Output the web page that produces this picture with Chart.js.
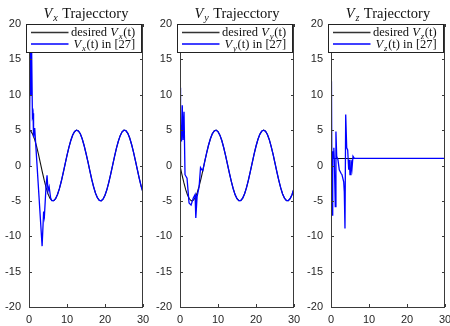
<!DOCTYPE html>
<html>
<head>
<meta charset="utf-8">
<script src="https://cdn.jsdelivr.net/npm/chart.js@4.4.0/dist/chart.umd.min.js"></script>
<style>
body{margin:0;width:450px;height:326px;overflow:hidden;background:#fff;position:relative}
.panel{position:absolute;top:0;width:150px;height:326px}
</style>
</head>
<body>
<div class="panel" style="left:0px"><canvas id="cx" width="150" height="326"></canvas></div>
<div class="panel" style="left:151px"><canvas id="cy" width="150" height="326"></canvas></div>
<div class="panel" style="left:302px"><canvas id="cz" width="150" height="326"></canvas></div>
<script>
// time grid of the desired curves
const tGrid = [0,0.5,1,1.5,2,2.5,3,3.5,4,4.5,5,5.5,6,6.5,7,7.5,8,8.5,9,9.5,10,10.5,11,11.5,12,12.5,13,13.5,14,14.5,15,
  15.5,16,16.5,17,17.5,18,18.5,19,19.5,20,20.5,21,21.5,22,22.5,23,23.5,24,24.5,25,25.5,26,26.5,27,27.5,28,28.5,29,29.5,30];

const vxDesired = [5,4.84,4.39,3.66,2.70,1.58,0.35,-0.89,-2.08,-3.14,
  -4.01,-4.62,-4.95,-4.97,-4.68,-4.10,-3.27,-2.23,-1.05,0.19,
  1.42,2.56,3.54,4.31,4.80,5.00,4.88,4.49,3.77,2.83,
  1.73,0.54,-0.73,-1.94,-3.01,-3.91,-4.56,-4.92,-4.99,-4.74,
  -4.20,-3.40,-2.38,-1.23,0.02,1.27,2.42,3.42,4.22,4.76,
  4.99,4.93,4.54,3.88,2.97,1.89,0.68,-0.56,-1.77,-2.90,-3.80];

const vyDesired = [0,-1.24,-2.40,-3.41,-4.21,-4.74,-4.99,-4.92,-4.55,-3.89,
  -2.99,-1.91,-0.71,0.54,1.75,2.86,3.78,4.48,4.89,5.00,
  4.79,4.29,3.53,2.54,1.40,0.17,-1.08,-2.25,-3.28,-4.12,
  -4.69,-4.97,-4.95,-4.61,-3.99,-3.12,-2.06,-0.87,0.38,1.60,
  2.72,3.67,4.40,4.86,5.00,4.84,4.38,3.65,2.68,1.57,
  0.33,-0.92,-2.10,-3.16,-4.02,-4.63,-4.95,-4.97,-4.67,-4.09,-3.25];

const tZ = [0,30];
const vzDesired = [1,1];

// transient part of the controller from [27], after that it follows the desired curve
const tVxHead = [0,0.12,0.25,0.4,0.55,0.7,0.9,1.06,1.2,1.5,3.45,3.85,4.05,4.5,4.75,5.0,5.3,5.7];
const vxHead  = [0,17,8,18,10,16,7,7.4,4,5.3,-11.4,-6.5,-7.2,-2.8,-1.4,-3.6,-3.0,-4.6];

const tVyHead = [0,0.08,0.2,0.4,0.6,0.8,1.06,1.32,1.85,2.38,2.91,3.5,3.97,4.16,4.5,5.03,5.4,5.75];
const vyHead  = [0,11,5,3.4,8.5,3.6,7.6,-1.3,-1.8,-5.3,-5.6,-4.6,-4.1,-7.4,-4.4,-3.0,-0.3,-0.6];

const tVzHead = [0,0.12,0.28,0.45,0.6,0.75,0.87,1.13,1.3,1.5,1.84,2.18,2.63,2.89,3.34,3.5,3.68,3.87,4.13,4.39,4.66,4.82,5.0,5.26,5.53,5.79,6.13];
const vzHead  = [0,11.9,-7.0,2.0,1.0,2.5,0.8,-5.8,4.8,1.3,0.8,-0.6,-1.1,-1.3,-2.3,-3.7,-8.9,7.2,2.5,2.2,-0.6,0.8,-1.3,0.8,-0.4,1.3,1.0];

const yTicks = {min:-20, max:20, step:5};
const xTicks = {min:0, max:30, step:10};

function pts(t, v){ return t.map((x,i)=>({x:x, y:v[i]})); }
function withTail(tHead, vHead, t, v){
  const last = tHead[tHead.length-1];
  const out = pts(tHead, vHead);
  t.forEach((x,i)=>{ if(x>last) out.push({x:x, y:v[i]}); });
  return out;
}

const serif = '"Liberation Serif", "Times New Roman", serif';

// draws "V_s" style pieces, returns width
function mathText(ctx, parts, x, y, size, draw){
  let w = 0;
  parts.forEach(p=>{
    const fs = p.sub ? size*0.7 : size;
    ctx.font = (p.it ? 'italic ' : '') + fs + 'px ' + serif;
    if(draw) ctx.fillText(p.s, x+w, y + (p.sub ? size*0.25 : 0));
    w += ctx.measureText(p.s).width + (p.it ? 0.8 : 0);
  });
  return w;
}

const matlabLook = {
  id:'matlabLook',
  afterDatasetsDraw(chart, args, o){
    const ctx = chart.ctx, a = chart.chartArea, xs = chart.scales.x, ys = chart.scales.y;
    ctx.save();
    // axes box with inward ticks
    ctx.strokeStyle = '#3a3a3a';
    ctx.lineWidth = 1;
    ctx.beginPath();
    xs.ticks.forEach(t=>{
      const px = Math.round(xs.getPixelForValue(t.value))+0.5;
      ctx.moveTo(px, a.bottom); ctx.lineTo(px, a.bottom-3);
      ctx.moveTo(px, a.top); ctx.lineTo(px, a.top+3);
    });
    ys.ticks.forEach(t=>{
      const py = Math.round(ys.getPixelForValue(t.value))+0.5;
      ctx.moveTo(a.left, py); ctx.lineTo(a.left+3, py);
      ctx.moveTo(a.right, py); ctx.lineTo(a.right-3, py);
    });
    ctx.stroke();
    ctx.strokeRect(Math.round(a.left)+0.5, Math.round(a.top)+0.5, Math.round(a.width)-1, Math.round(a.height));

    // legend
    const bx = Math.round(a.left)-2.5, by = Math.round(a.top)+0.5, bw = Math.round(a.width)+1, bh = 28;
    ctx.fillStyle = '#fff';
    ctx.fillRect(bx, by, bw, bh);
    ctx.strokeStyle = '#222';
    ctx.strokeRect(bx, by, bw, bh);
    const rows = [
      {color:'#333', parts:[{s:'desired '},{s:'V',it:true},{s:o.sub,it:true,sub:true},{s:'(t)'}]},
      {color:'#0000ff', parts:[{s:'V',it:true},{s:o.sub,it:true,sub:true},{s:'(t) in [27]'}]}
    ];
    rows.forEach((r,i)=>{
      const ly = by + 8 + i*11.5;
      ctx.strokeStyle = r.color;
      ctx.lineWidth = 1.3;
      ctx.beginPath(); ctx.moveTo(bx+4.5, ly); ctx.lineTo(bx+42, ly); ctx.stroke();
      ctx.fillStyle = '#111';
      ctx.textBaseline = 'alphabetic';
      mathText(ctx, r.parts, bx+44.5 + (i ? 2.5 : 0), ly+3.5, 12.5, true);
    });

    // title
    const tparts = [{s:'V',it:true},{s:o.sub,it:true,sub:true},{s:' Trajecctory'}];
    const tw = mathText(ctx, tparts, 0, 0, 14.5, false);
    ctx.fillStyle = '#111';
    mathText(ctx, tparts, (a.left+a.right)/2 - tw/2, 17.5, 14.5, true);
    ctx.restore();
  }
};

function drawPanel(id, sub, desired, ref){
  new Chart(document.getElementById(id), {
    type:'line',
    data:{datasets:[
      {data:ref, borderColor:'#0000ff', borderWidth:1.3, pointRadius:0, tension:0},
      {data:desired, borderColor:'#111', borderWidth:1.1, pointRadius:0, tension:0}
    ]},
    options:{
      responsive:false,
      animation:false,
      events:[],
      layout:{padding:{top:24, right:7, left:0, bottom:0}},
      plugins:{legend:{display:false}, tooltip:{enabled:false}, matlabLook:{sub:sub}},
      scales:{
        x:{type:'linear', min:xTicks.min, max:xTicks.max,
           grid:{display:false, drawTicks:false}, border:{display:false},
           ticks:{stepSize:xTicks.step, padding:6, color:'#262626', maxRotation:0,
                  font:{family:'"Liberation Sans", Arial, sans-serif', size:11}},
           afterFit(s){ s.height = 19; s.paddingLeft = 0; s.paddingRight = 0; }},
        y:{type:'linear', min:yTicks.min, max:yTicks.max,
           grid:{display:false, drawTicks:false}, border:{display:false},
           ticks:{stepSize:yTicks.step, padding:8, color:'#262626',
                  font:{family:'"Liberation Sans", Arial, sans-serif', size:11}},
           afterFit(s){ s.width = 29; s.paddingTop = 0; s.paddingBottom = 0; }}
      }
    },
    plugins:[matlabLook]
  });
}

drawPanel('cx', 'x', pts(tGrid, vxDesired), withTail(tVxHead, vxHead, tGrid, vxDesired));
drawPanel('cy', 'y', pts(tGrid, vyDesired), withTail(tVyHead, vyHead, tGrid, vyDesired));
drawPanel('cz', 'z', pts(tZ, vzDesired), withTail(tVzHead, vzHead, tZ, vzDesired));
</script>
</body>
</html>
